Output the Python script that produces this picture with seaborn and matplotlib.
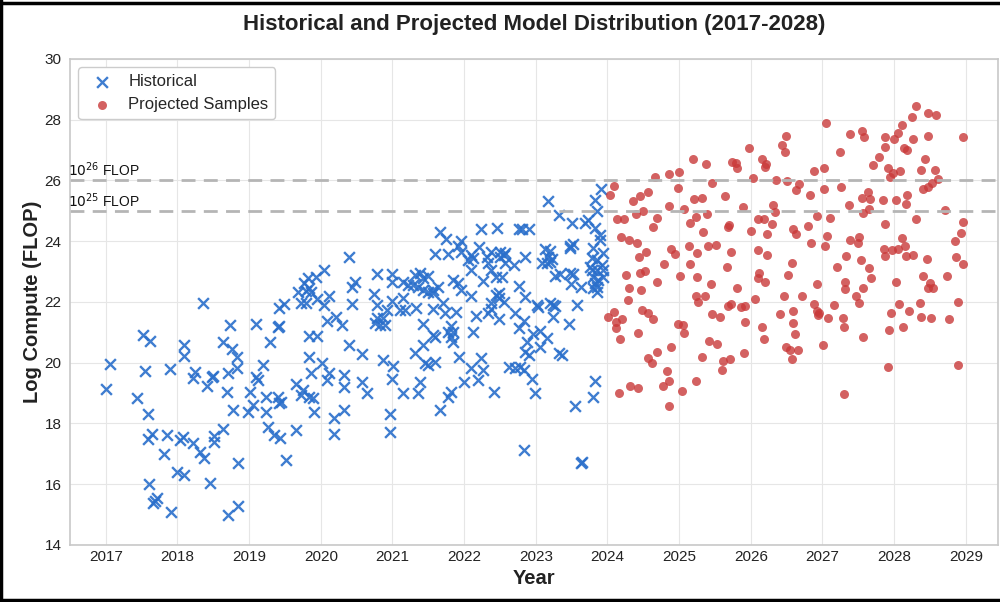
import matplotlib
matplotlib.use('Agg')
import matplotlib.pyplot as plt
import matplotlib.transforms as mtransforms
from matplotlib.lines import Line2D
import seaborn as sns
import pandas as pd

# Historical models (year, log10 compute)
hist_year = [
    2018.73, 2019.10, 2017.52, 2017.61, 2018.09, 2018.09, 2018.63, 2018.76, 2018.83, 2017.06,
    2017.54, 2017.89, 2018.24, 2018.21, 2018.48, 2018.49, 2018.41, 2018.71, 2018.83, 2019.10,
    2019.13, 2017.00, 2017.43, 2017.59, 2018.69, 2019.01, 2018.77, 2018.99, 2019.06, 2017.64,
    2017.59, 2017.85, 2017.81, 2018.03, 2018.07, 2018.21, 2018.31, 2018.37, 2018.51, 2018.51,
    2018.64, 2018.84, 2018.00, 2018.09, 2018.46, 2017.60, 2017.71, 2017.66, 2017.68, 2017.91,
    2018.71, 2018.85, 2018.35,
    2020.39, 2020.79, 2021.00, 2021.00, 2021.15, 2021.22, 2020.05, 2019.93, 2019.82, 2019.77,
    2020.48, 2020.44, 2019.83, 2019.86, 2019.68, 2019.79, 2020.11, 2019.95, 2020.04, 2019.72,
    2019.80, 2019.41, 2019.48, 2020.44, 2020.74, 2020.79, 2020.93, 2021.00, 2021.15, 2021.11,
    2021.17, 2020.79, 2020.76, 2020.83, 2020.90, 2020.87, 2020.09, 2020.21, 2020.30, 2019.40,
    2019.41, 2019.29, 2019.83, 2019.95, 2020.39, 2020.58, 2019.84, 2020.87, 2021.01, 2020.02,
    2019.20, 2019.86, 2020.11, 2020.08, 2020.32, 2020.32, 2020.57, 2020.65, 2020.99, 2021.14,
    2019.66, 2019.75, 2019.72, 2019.89, 2019.83, 2019.23, 2019.40, 2019.24, 2019.44, 2019.41,
    2019.91, 2020.33, 2020.19, 2020.96, 2019.26, 2019.34, 2019.43, 2019.66, 2020.18, 2020.96,
    2019.51,
    2021.66, 2021.75, 2022.24, 2021.95, 2021.91, 2021.95, 2021.59, 2021.77, 2022.09, 2022.12,
    2022.06, 2022.09, 2022.21, 2022.32, 2022.34, 2021.32, 2021.38, 2021.42, 2021.28, 2021.35,
    2021.43, 2021.50, 2021.49, 2021.57, 2021.63, 2021.56, 2021.85, 2021.91, 2021.95, 2022.09,
    2022.27, 2021.33, 2021.56, 2021.71, 2021.74, 2021.88, 2022.17, 2021.42, 2021.81, 2021.78,
    2021.85, 2021.81, 2021.85, 2021.57, 2021.60, 2022.13, 2021.42, 2021.31, 2021.46, 2021.49,
    2021.60, 2021.93, 2022.24, 2022.09, 2022.27, 2021.38, 2021.36, 2022.00, 2022.20, 2021.81,
    2021.77, 2021.66, 2022.34,
    2023.91, 2023.82, 2023.86, 2023.17, 2023.33, 2023.51, 2023.68, 2023.73, 2023.83, 2023.90,
    2023.90, 2022.46, 2022.77, 2022.81, 2022.90, 2023.48, 2023.52, 2023.48, 2023.13, 2023.20,
    2023.80, 2023.94, 2022.37, 2022.50, 2022.57, 2022.55, 2022.50, 2022.85, 2023.17, 2023.23,
    2023.09, 2023.16, 2023.20, 2022.69, 2022.57, 2023.79, 2023.86, 2023.93, 2023.76, 2023.79,
    2023.86, 2023.94, 2023.80, 2023.87, 2023.83, 2023.86, 2023.80, 2023.86, 2023.94, 2023.48,
    2023.52, 2023.49, 2023.63, 2023.27, 2023.34, 2022.37, 2022.44, 2022.53, 2022.77, 2022.85,
    2022.44, 2022.49, 2022.48, 2022.55, 2022.37, 2022.37, 2023.02, 2023.03, 2023.20, 2023.24,
    2023.27, 2023.58, 2022.71, 2022.49, 2023.24, 2022.83, 2022.76, 2023.47, 2023.06, 2022.96,
    2023.15, 2023.06, 2022.88, 2022.85, 2022.90, 2023.33, 2023.36, 2022.63, 2022.71, 2022.83,
    2022.78, 2022.95, 2022.41, 2022.99, 2023.83, 2023.80, 2023.55, 2022.83, 2023.63, 2023.64,
]
hist_log = [
    21.24, 21.28, 20.91, 20.72, 20.58, 20.22, 20.68, 20.45, 20.19, 19.96,
    19.73, 19.79, 19.70, 19.50, 19.53, 19.55, 19.23, 19.66, 19.83, 19.53,
    19.43, 19.14, 18.84, 18.31, 19.04, 19.04, 18.44, 18.38, 18.61, 17.65,
    17.49, 17.62, 17.00, 17.46, 17.56, 17.36, 17.06, 16.86, 17.59, 17.39,
    17.82, 16.70, 16.40, 16.30, 16.04, 16.01, 15.55, 15.38, 15.45, 15.09,
    14.99, 15.28, 21.95,
    23.48, 22.92, 22.92, 22.66, 22.66, 22.56, 23.05, 22.82, 22.79, 22.63,
    22.66, 22.49, 22.46, 22.33, 22.33, 22.36, 22.20, 22.10, 21.90, 21.97,
    21.97, 21.80, 21.93, 21.93, 22.26, 21.90, 21.74, 22.03, 22.13, 21.74,
    21.74, 21.47, 21.31, 21.24, 21.24, 21.47, 21.37, 21.51, 21.24, 21.18,
    21.20, 20.68, 20.88, 20.88, 20.58, 20.29, 20.19, 20.09, 19.89, 19.99,
    19.93, 19.66, 19.66, 19.43, 19.60, 19.20, 19.37, 19.00, 19.47, 19.00,
    19.30, 19.10, 18.94, 18.84, 18.87, 18.87, 18.87, 18.38, 18.70, 18.67,
    18.38, 18.44, 18.18, 18.31, 17.88, 17.62, 17.52, 17.79, 17.65, 17.72,
    16.80,
    24.30, 24.07, 24.40, 24.01, 23.84, 23.65, 23.58, 23.58, 23.55, 23.45,
    23.38, 23.05, 23.81, 23.48, 23.28, 22.89, 22.95, 22.79, 22.56, 22.49,
    22.39, 22.86, 22.33, 22.30, 22.49, 22.39, 22.72, 22.63, 22.39, 22.20,
    22.69, 21.80, 21.77, 21.97, 21.64, 21.67, 21.54, 21.28, 21.21, 21.01,
    21.01, 20.85, 20.68, 20.91, 20.85, 21.01, 20.58, 20.32, 19.99, 19.93,
    20.03, 20.19, 20.16, 19.83, 19.76, 19.37, 19.00, 19.37, 19.43, 19.04,
    18.87, 18.44, 21.64,
    25.72, 25.36, 25.00, 25.33, 24.86, 24.60, 24.60, 24.70, 24.44, 24.21,
    24.04, 24.44, 24.40, 24.40, 24.40, 23.84, 23.91, 23.78, 23.74, 23.68,
    23.78, 23.61, 23.65, 23.65, 23.61, 23.55, 23.48, 23.48, 23.48, 23.42,
    23.28, 23.28, 23.32, 23.22, 23.28, 23.45, 23.38, 23.22, 23.15, 23.05,
    23.05, 23.05, 22.82, 22.72, 22.63, 22.49, 22.46, 22.33, 22.82, 22.95,
    22.92, 22.59, 22.49, 22.86, 22.92, 23.05, 22.82, 22.82, 22.53, 22.16,
    22.23, 22.30, 22.13, 22.00, 21.97, 21.77, 21.90, 21.84, 21.97, 21.90,
    21.87, 21.90, 21.64, 21.44, 21.51, 21.37, 21.14, 21.28, 21.05, 20.95,
    20.82, 20.52, 20.68, 20.35, 20.26, 20.32, 20.26, 19.86, 19.83, 19.76,
    19.86, 19.47, 19.04, 19.00, 19.40, 18.87, 18.58, 17.13, 16.70, 16.72,
]

# Projected samples (year, log10 compute)
proj_year = [
    2024.09, 2024.04, 2024.67, 2024.86, 2025.00, 2024.99, 2025.46, 2024.36, 2024.46, 2024.57,
    2024.86, 2025.21, 2025.32, 2025.07, 2024.50, 2024.40, 2024.14, 2024.23, 2024.69, 2024.64,
    2025.24, 2025.15, 2025.39, 2025.33, 2024.19, 2024.30, 2024.41, 2025.40, 2025.52, 2025.14,
    2025.25, 2024.89, 2024.94, 2024.54, 2024.44, 2024.79, 2025.15, 2024.53, 2024.46, 2024.26,
    2025.01, 2024.69, 2025.25, 2025.45, 2024.30, 2024.47, 2025.24, 2025.36, 2024.29, 2025.20,
    2025.38,
    2025.27, 2024.01, 2024.09, 2024.12, 2024.20, 2024.12, 2024.18, 2024.48, 2024.57, 2024.64,
    2024.43, 2024.99, 2025.06, 2025.07, 2025.46, 2025.57, 2025.42, 2025.53, 2025.32, 2024.89,
    2024.69, 2024.57, 2024.62, 2024.83, 2024.86, 2024.78, 2024.32, 2024.43, 2024.16, 2025.24,
    2025.04, 2024.86,
    2027.05, 2026.49, 2026.44, 2026.48, 2025.97, 2026.16, 2026.21, 2026.20, 2025.74, 2025.79,
    2025.81, 2027.24, 2026.88, 2027.02, 2026.03, 2026.35, 2026.51, 2026.67, 2026.63, 2027.02,
    2026.83, 2025.64, 2025.89, 2026.31, 2026.34, 2026.92, 2027.10, 2026.10, 2026.18, 2026.30,
    2025.70, 2025.68, 2026.00, 2026.59, 2026.63, 2026.23, 2026.80, 2027.06, 2026.84, 2027.03,
    2025.72, 2026.10, 2026.23, 2026.57, 2025.67, 2026.11, 2026.10, 2026.20, 2026.52, 2026.92,
    2027.20, 2025.81,
    2026.46, 2026.71, 2026.06, 2025.68, 2025.72, 2025.86, 2025.92, 2026.88, 2026.92, 2026.94,
    2026.95, 2027.16, 2026.41, 2026.59, 2027.08, 2025.92, 2026.59, 2026.16, 2026.18, 2026.62,
    2027.01, 2026.49, 2026.55, 2026.66, 2026.57, 2025.91, 2025.61, 2025.71, 2025.60,
    2028.30, 2028.47, 2028.58, 2028.25, 2028.11, 2028.05, 2028.00, 2027.38, 2027.55, 2027.58,
    2027.88, 2028.48, 2028.96, 2028.26, 2027.87, 2028.14, 2028.18, 2027.79, 2027.70, 2028.43,
    2027.91, 2027.98, 2028.08, 2027.94, 2028.37, 2028.57, 2028.61, 2028.53, 2028.48, 2028.40,
    2027.26, 2027.63, 2027.55, 2027.66, 2027.84, 2028.02, 2028.18, 2028.16, 2027.37, 2027.56,
    2027.65, 2028.71, 2028.30, 2027.87, 2028.96, 2028.93, 2028.85, 2027.38, 2027.51, 2027.49,
    2028.11, 2028.15, 2027.86, 2027.97, 2028.05, 2027.33, 2027.87, 2028.16, 2028.27, 2028.46,
    2027.54, 2028.87,
    2028.96, 2027.65, 2027.68, 2028.40, 2028.50, 2028.48, 2028.54, 2028.74, 2028.02, 2027.31,
    2027.31, 2027.56, 2027.47, 2027.51, 2028.07, 2028.36, 2028.21, 2027.95, 2028.89, 2027.29,
    2027.30, 2028.37, 2028.51, 2028.76, 2028.12, 2027.93, 2027.56, 2027.91, 2028.89, 2027.30,
]
proj_log = [
    25.82, 25.52, 26.12, 26.21, 26.28, 25.75, 25.92, 25.33, 25.49, 25.62,
    25.16, 25.39, 25.42, 25.06, 25.00, 24.90, 24.73, 24.73, 24.77, 24.47,
    24.80, 24.60, 24.90, 24.30, 24.14, 24.04, 23.94, 23.84, 23.88, 23.84,
    23.61, 23.74, 23.58, 23.65, 23.48, 23.25, 23.25, 23.02, 22.95, 22.89,
    22.86, 22.66, 22.82, 22.59, 22.46, 22.40, 22.20, 22.20, 22.07, 26.72,
    26.55,
    22.00, 21.51, 21.67, 21.34, 21.44, 21.14, 20.78, 21.74, 21.64, 21.44,
    20.98, 21.28, 21.24, 20.98, 21.61, 21.51, 20.72, 20.62, 20.19, 20.52,
    20.35, 20.16, 19.99, 19.73, 19.40, 19.23, 19.23, 19.17, 19.00, 19.40,
    19.07, 18.58,
    27.89, 27.46, 27.17, 26.94, 27.07, 26.71, 26.54, 26.44, 26.61, 26.58,
    26.41, 26.94, 26.31, 26.41, 26.08, 26.02, 25.98, 25.88, 25.69, 25.72,
    25.52, 25.49, 25.13, 25.19, 24.96, 24.83, 24.77, 24.73, 24.73, 24.57,
    24.53, 24.47, 24.34, 24.40, 24.24, 24.24, 24.50, 24.17, 23.94, 23.84,
    23.65, 23.71, 23.55, 23.28, 23.15, 22.95, 22.79, 22.66, 22.89, 22.59,
    23.15, 22.46,
    22.20, 22.20, 22.10, 21.87, 21.93, 21.84, 21.87, 21.93, 21.70, 21.57,
    21.64, 21.90, 21.61, 21.70, 21.47, 21.34, 21.31, 21.18, 20.78, 20.95,
    20.58, 20.52, 20.42, 20.42, 20.12, 20.32, 20.06, 20.12, 19.76,
    28.45, 28.22, 28.16, 28.09, 27.83, 27.56, 27.37, 27.53, 27.63, 27.43,
    27.43, 27.46, 27.43, 27.37, 27.10, 27.07, 27.00, 26.77, 26.51, 26.71,
    26.41, 26.25, 26.31, 26.12, 26.35, 26.35, 26.05, 25.92, 25.79, 25.72,
    25.79, 25.62, 25.42, 25.39, 25.36, 25.36, 25.52, 25.23, 25.19, 24.93,
    25.06, 25.03, 24.73, 24.57, 24.63, 24.27, 24.01, 24.04, 24.14, 23.94,
    24.11, 23.84, 23.74, 23.71, 23.74, 23.51, 23.51, 23.51, 23.55, 23.42,
    23.38, 23.48,
    23.25, 23.12, 22.79, 22.86, 22.63, 22.46, 22.46, 22.86, 22.66, 22.66,
    22.43, 22.46, 22.20, 21.97, 21.93, 21.97, 21.70, 21.64, 22.00, 21.47,
    21.18, 21.51, 21.47, 21.44, 21.18, 21.08, 20.85, 19.86, 19.93, 18.97,
]

thresholds = [26, 25]
threshold_labels = ['$10^{26}$ FLOP', '$10^{25}$ FLOP']

hist_df = pd.DataFrame({'year': hist_year, 'log_compute': hist_log})
proj_df = pd.DataFrame({'year': proj_year, 'log_compute': proj_log})

sns.set_theme(style='whitegrid')
plt.rcParams['font.family'] = ['Liberation Sans', 'DejaVu Sans']

fig = plt.figure(figsize=(10, 6.02), dpi=100)
ax = fig.add_axes([0.07, 0.095, 0.928, 0.807])

sns.scatterplot(data=hist_df, x='year', y='log_compute', ax=ax, marker='x',
                color='#2a6fcb', s=60, linewidth=1.7, alpha=0.9, label='Historical')
sns.scatterplot(data=proj_df, x='year', y='log_compute', ax=ax, marker='o',
                color='#c93a3a', s=42, linewidth=0, alpha=0.8, label='Projected Samples')

trans = mtransforms.blended_transform_factory(ax.transAxes, ax.transData)
for thr, lab in zip(thresholds, threshold_labels):
    ax.axhline(thr, color='#b5b5b5', linestyle='--', linewidth=2, dashes=(5, 3), zorder=1)
    ax.text(-0.002, thr + 0.04, lab, transform=trans, ha='left', va='bottom',
            fontsize=10, color='#111111')

ax.set_xlim(2016.5, 2029.45)
ax.set_ylim(14, 30)
ax.set_xticks(range(2017, 2030))
ax.set_yticks(range(14, 31, 2))
ax.tick_params(axis='both', labelsize=11, colors='#222222', length=0)
ax.tick_params(axis='x', pad=3.6)
ax.tick_params(axis='y', pad=6)
ax.grid(color='#e6e6e6', linewidth=0.8)
for sp in ax.spines.values():
    sp.set_color('#c8c8c8')
    sp.set_linewidth(1.2)

ax.set_xlabel('Year', fontsize=14.5, fontweight='bold', color='#222222', labelpad=4)
ax.set_ylabel('Log Compute (FLOP)', fontsize=14.5, fontweight='bold', color='#222222', labelpad=2)
ax.set_title('Historical and Projected Model Distribution (2017-2028)', fontsize=16,
             fontweight='bold', color='#222222', pad=21)

ax.legend(loc='upper left', fontsize=12, frameon=True, borderpad=0.4, labelspacing=0.5,
          handletextpad=0.6, edgecolor='#cccccc', framealpha=1.0)

# black frame on left, top and bottom edges
for xs, ys in [([0.001, 0.001], [0, 1]), ([0, 1], [0.995, 0.995]), ([0, 1], [0.004, 0.004])]:
    fig.add_artist(Line2D(xs, ys, transform=fig.transFigure, color='black', linewidth=2.5))

fig.savefig('out.png', dpi=100)
